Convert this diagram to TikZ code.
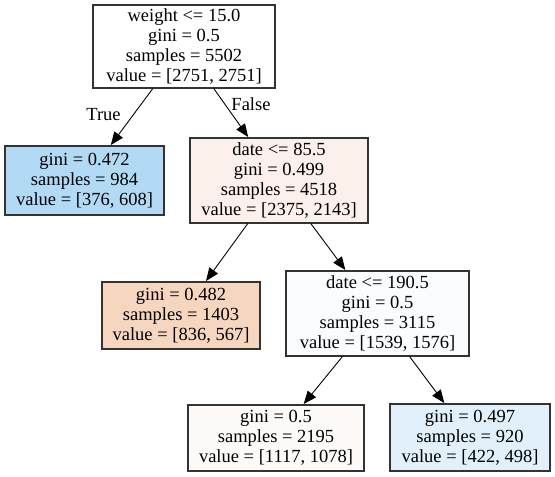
\documentclass[tikz,border=0pt]{standalone}
\usepackage{fontspec}
\setmainfont{Liberation Serif}
\usetikzlibrary{arrows.meta}
\definecolor{cblue}{RGB}{179,218,245}
\definecolor{cd85}{RGB}{252,241,234}
\definecolor{cl482}{RGB}{247,214,191}
\definecolor{cd190}{RGB}{250,253,254}
\definecolor{cl05}{RGB}{254,250,248}
\definecolor{cl497}{RGB}{225,240,251}
\tikzset{
  treebox/.style={draw=black!80, line width=1.2pt, rectangle, inner sep=0pt, align=center,
    font=\fontsize{18.5}{20}\selectfont},
  edgeline/.style={draw=black, line width=0.9pt, -{Triangle[length=13pt,width=10.5pt]}, shorten >=0.5pt},
  edgelabel/.style={font=\fontsize{18.5}{20}\selectfont, inner sep=0pt}
}
\begin{document}
\begin{tikzpicture}[x=1pt,y=-1pt]
\useasboundingbox[fill=white] (0,0) rectangle (555,477);
\node[treebox, fill=white, minimum width=182pt, minimum height=83pt] (root) at (184,46.5)
  {weight <= 15.0\\gini = 0.5\\samples = 5502\\value = [2751, 2751]};
\node[treebox, fill=cblue, minimum width=159pt, minimum height=69pt] (lleaf) at (84.5,180.5)
  {gini = 0.472\\samples = 984\\value = [376, 608]};
\node[treebox, fill=cd85, minimum width=178pt, minimum height=85pt] (d85) at (279,180.5)
  {date <= 85.5\\gini = 0.499\\samples = 4518\\value = [2375, 2143]};
\node[treebox, fill=cl482, minimum width=158pt, minimum height=67pt] (l482) at (181,315.5)
  {gini = 0.482\\samples = 1403\\value = [836, 567]};
\node[treebox, fill=cd190, minimum width=183pt, minimum height=85pt] (d190) at (377.5,313.5)
  {date <= 190.5\\gini = 0.5\\samples = 3115\\value = [1539, 1576]};
\node[treebox, fill=cl05, minimum width=176pt, minimum height=66pt] (l05) at (276,438)
  {gini = 0.5\\samples = 2195\\value = [1117, 1078]};
\node[treebox, fill=cl497, minimum width=160pt, minimum height=67pt] (l497) at (470,437.5)
  {gini = 0.497\\samples = 920\\value = [422, 498]};
\draw[edgeline] (root) -- (lleaf);
\draw[edgeline] (root) -- (d85);
\draw[edgeline] (d85) -- (l482);
\draw[edgeline] (d85) -- (d190);
\draw[edgeline] (d190) -- (l05);
\draw[edgeline] (d190) -- (l497);
\node[edgelabel] (ltrue) at (103.5,115) {True};
\node[edgelabel] (lfalse) at (251,104) {False};
\end{tikzpicture}
\end{document}
